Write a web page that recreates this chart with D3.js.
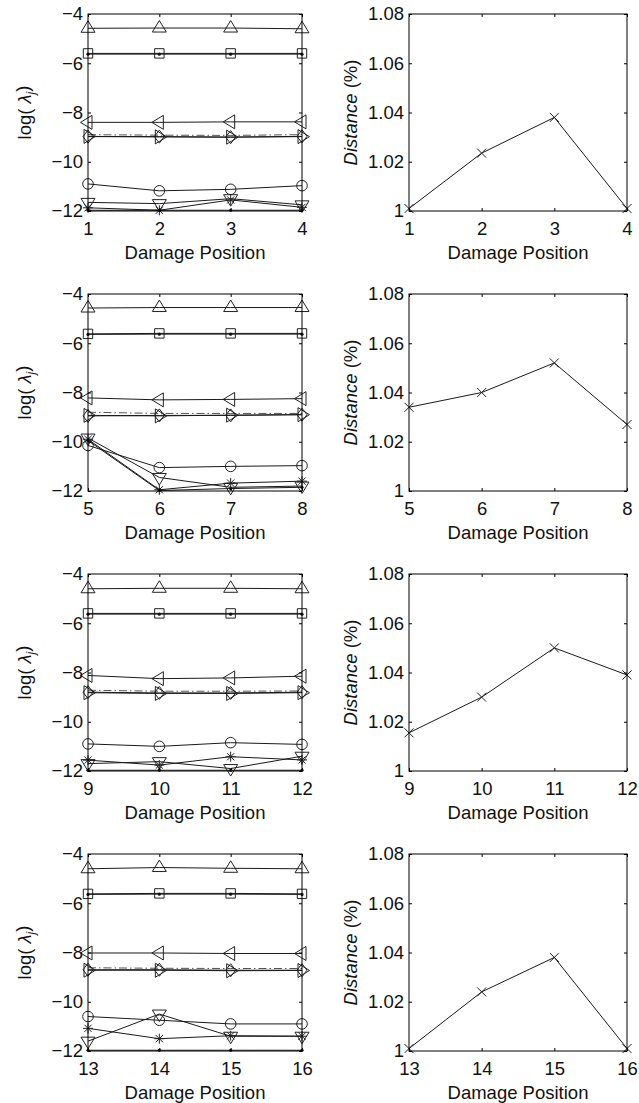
<!DOCTYPE html>
<html>
<head>
<meta charset="utf-8">
<script src="https://cdn.jsdelivr.net/npm/d3@7"></script>
<style>
  body { margin: 0; background: #fff; }
  svg { display: block; }
  text { font-family: Arial, "Liberation Sans", Helvetica, sans-serif; fill: #111; }
</style>
</head>
<body>
<svg id="chart" width="639" height="1103"></svg>
<script>
// damage positions for each row of subplots
const positions = [[1, 2, 3, 4], [5, 6, 7, 8], [9, 10, 11, 12], [13, 14, 15, 16]];

// log(lambda_j) per eigenvalue, one array per row
const triUpVals    = [[-4.58, -4.57, -4.57, -4.6], [-4.57, -4.55, -4.55, -4.55], [-4.6, -4.58, -4.58, -4.6], [-4.6, -4.55, -4.58, -4.6]];
const squareVals   = [[-5.6, -5.6, -5.6, -5.6], [-5.62, -5.6, -5.6, -5.6], [-5.6, -5.6, -5.6, -5.6], [-5.62, -5.6, -5.6, -5.62]];
const pointVals    = [[-5.63, -5.63, -5.63, -5.63], [-5.64, -5.63, -5.63, -5.63], [-5.63, -5.63, -5.63, -5.63], [-5.64, -5.63, -5.63, -5.64]];
const triLeftVals  = [[-8.4, -8.4, -8.38, -8.38], [-8.22, -8.3, -8.28, -8.25], [-8.12, -8.25, -8.22, -8.15], [-8.02, -8.02, -8.04, -8.04]];
const dashDotVals  = [[-8.9, -8.92, -8.93, -8.9], [-8.8, -8.85, -8.85, -8.85], [-8.72, -8.76, -8.76, -8.75], [-8.62, -8.64, -8.65, -8.65]];
const diamondVals  = [[-8.98, -8.98, -9.0, -8.97], [-8.95, -8.93, -8.93, -8.9], [-8.8, -8.83, -8.83, -8.8], [-8.7, -8.7, -8.72, -8.72]];
const triRightVals = [[-8.97, -8.99, -9.0, -8.98], [-8.93, -8.95, -8.92, -8.9], [-8.82, -8.85, -8.85, -8.82], [-8.72, -8.72, -8.74, -8.73]];
const circleVals   = [[-10.9, -11.18, -11.12, -10.97], [-10.15, -11.05, -11.0, -10.97], [-10.9, -11.0, -10.85, -10.92], [-10.6, -10.75, -10.9, -10.9]];
const triDownVals  = [[-11.65, -11.7, -11.5, -11.75], [-9.85, -11.45, -11.85, -11.8], [-11.7, -11.62, -11.9, -11.4], [-11.6, -10.5, -11.4, -11.4]];
const starVals     = [[-11.87, -11.97, -11.55, -11.85], [-9.9, -11.95, -11.68, -11.6], [-11.56, -11.76, -11.42, -11.55], [-11.08, -11.5, -11.38, -11.4]];
const lowestVals   = [[-11.97, -11.97, -11.97, -11.97], [-9.95, -11.98, -11.9, -11.85], [-11.97, -11.97, -11.97, -11.97], [-11.97, -11.97, -11.97, -11.97]];

// distance (%) per row
const distanceVals = [[1.001, 1.0235, 1.038, 1.001], [1.034, 1.040, 1.052, 1.027], [1.0155, 1.030, 1.050, 1.039], [1.001, 1.024, 1.038, 1.001]];

const logTicks = [-12, -10, -8, -6, -4];
const distTicks = [1, 1.02, 1.04, 1.06, 1.08];

const series = [
  { vals: triUpVals, marker: '^' },
  { vals: squareVals, marker: 's' },
  { vals: pointVals, marker: '.' },
  { vals: triLeftVals, marker: '<' },
  { vals: dashDotVals, marker: null, dash: '8,3,1.5,3' },
  { vals: diamondVals, marker: 'd' },
  { vals: triRightVals, marker: '>' },
  { vals: circleVals, marker: 'o' },
  { vals: triDownVals, marker: 'v' },
  { vals: starVals, marker: '*' },
  { vals: lowestVals, marker: '.' }
];

const svg = d3.select('#chart');
const fontSize = 18.5;
const leftRange = [88, 302];
const rightRange = [409, 627];
const rowHeight = 197;
const rowPitch = 280;

function markerPath(type) {
  switch (type) {
    case '^': return 'M0,-7.5L7,4L-7,4Z';
    case 'v': return 'M0,7.5L7,-4L-7,-4Z';
    case '<': return 'M-7.5,0L4,-7L4,7Z';
    case '>': return 'M7.5,0L-4,-7L-4,7Z';
    case 's': return 'M-4.7,-4.7H4.7V4.7H-4.7Z';
    case 'd': return 'M0,-6.5L5,0L0,6.5L-5,0Z';
    case 'o': return 'M5.3,0A5.3,5.3 0 1,1 -5.3,0A5.3,5.3 0 1,1 5.3,0Z';
    case '*': return 'M-5,0H5M0,-5V5M-3.6,-3.6L3.6,3.6M-3.6,3.6L3.6,-3.6';
    case 'x': return 'M-4.5,-4.5L4.5,4.5M-4.5,4.5L4.5,-4.5';
    default: return null;
  }
}

function drawFrame(g, x, y, ticksY, fmt) {
  const ticksX = d3.range(x.domain()[0], x.domain()[1] + 1);
  g.append('g').attr('transform', `translate(0,${y.range()[0]})`)
    .call(d3.axisBottom(x).tickValues(ticksX).tickSize(-3).tickPadding(11).tickFormat(d3.format('d')))
    .call(a => a.select('.domain').remove());
  g.append('g').attr('transform', `translate(0,${y.range()[1]})`)
    .call(d3.axisTop(x).tickValues(ticksX).tickSize(-3).tickFormat(''))
    .call(a => a.select('.domain').remove());
  g.append('g').attr('transform', `translate(${x.range()[0]},0)`)
    .call(d3.axisLeft(y).tickValues(ticksY).tickSize(-3).tickPadding(5).tickFormat(fmt))
    .call(a => a.select('.domain').remove());
  g.append('g').attr('transform', `translate(${x.range()[1]},0)`)
    .call(d3.axisRight(y).tickValues(ticksY).tickSize(-3).tickFormat(''))
    .call(a => a.select('.domain').remove());
  g.selectAll('.tick line').attr('stroke', '#000');
  g.selectAll('.tick text').attr('font-size', fontSize).attr('fill', '#111')
    .attr('font-family', 'Arial, "Liberation Sans", sans-serif');
  g.append('rect')
    .attr('x', x.range()[0]).attr('y', y.range()[1])
    .attr('width', x.range()[1] - x.range()[0]).attr('height', y.range()[0] - y.range()[1])
    .attr('fill', 'none').attr('stroke', '#000').attr('stroke-width', 1);
  g.append('text')
    .attr('x', (x.range()[0] + x.range()[1]) / 2).attr('y', y.range()[0] + 48)
    .attr('text-anchor', 'middle').attr('font-size', fontSize)
    .text('Damage Position');
}

for (let r = 0; r < positions.length; r++) {
  const top = 14 + r * rowPitch;
  const bottom = top + rowHeight;
  const xs = positions[r];

  // ---------- left: log(lambda_j) ----------
  const gL = svg.append('g');
  const xL = d3.scaleLinear().domain([xs[0], xs[3]]).range(leftRange);
  const yL = d3.scaleLinear().domain([-12, -4]).range([bottom, top]);

  gL.append('clipPath').attr('id', 'clipL' + r)
    .append('rect').attr('x', leftRange[0]).attr('y', top)
    .attr('width', leftRange[1] - leftRange[0]).attr('height', rowHeight);

  const lineL = d3.line().x((d, i) => xL(xs[i])).y(d => yL(d));
  series.forEach(s => {
    gL.append('path')
      .attr('d', lineL(s.vals[r]))
      .attr('fill', 'none')
      .attr('stroke', s.dash ? '#555' : '#1a1a1a')
      .attr('stroke-width', 1)
      .attr('stroke-dasharray', s.dash || null)
      .attr('clip-path', `url(#clipL${r})`);
    if (!s.marker) return;
    const pts = gL.append('g').selectAll('g').data(s.vals[r]).join('g')
      .attr('transform', (d, i) => `translate(${xL(xs[i])},${yL(d)})`);
    if (s.marker === '.') {
      pts.append('circle').attr('r', 1.6).attr('fill', '#111');
    } else {
      pts.append('path').attr('d', markerPath(s.marker))
        .attr('fill', 'none').attr('stroke', '#222').attr('stroke-width', 1);
    }
  });

  drawFrame(gL, xL, yL, logTicks, d3.format('d'));

  const yLabL = gL.append('text')
    .attr('transform', `translate(31,${(top + bottom) / 2}) rotate(-90)`)
    .attr('text-anchor', 'middle').attr('font-size', fontSize);
  yLabL.append('tspan').text('log( ');
  yLabL.append('tspan').attr('font-style', 'italic').text('λ');
  yLabL.append('tspan').attr('font-style', 'italic').attr('font-size', 12).attr('dy', '0.35em').text('j');
  yLabL.append('tspan').attr('dy', '-0.35em').text(')');

  // ---------- right: distance ----------
  const gR = svg.append('g');
  const xR = d3.scaleLinear().domain([xs[0], xs[3]]).range(rightRange);
  const yR = d3.scaleLinear().domain([1, 1.08]).range([bottom, top]);

  const lineR = d3.line().x((d, i) => xR(xs[i])).y(d => yR(d));
  gR.append('path')
    .attr('d', lineR(distanceVals[r]))
    .attr('fill', 'none').attr('stroke', '#1a1a1a').attr('stroke-width', 1);
  gR.append('g').selectAll('path').data(distanceVals[r]).join('path')
    .attr('transform', (d, i) => `translate(${xR(xs[i])},${yR(d)})`)
    .attr('d', markerPath('x'))
    .attr('fill', 'none').attr('stroke', '#222').attr('stroke-width', 1);

  drawFrame(gR, xR, yR, distTicks, d => (d === 1 ? '1' : d3.format('.2f')(d)));

  const yLabR = gR.append('text')
    .attr('transform', `translate(357,${(top + bottom) / 2}) rotate(-90)`)
    .attr('text-anchor', 'middle').attr('font-size', fontSize);
  yLabR.append('tspan').attr('font-style', 'italic').text('Distance');
  yLabR.append('tspan').text(' (%)');
}
</script>
</body>
</html>
